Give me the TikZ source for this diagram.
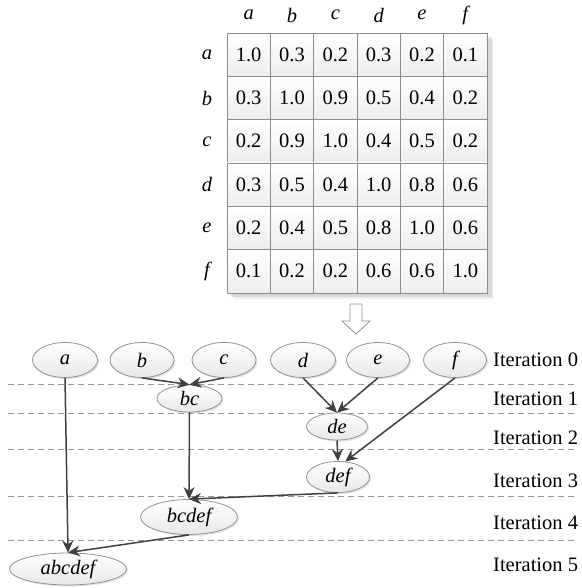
\documentclass[tikz,border=0pt]{standalone}
\usepackage{fontspec}
\setmainfont{Liberation Serif}
\usetikzlibrary{arrows.meta,shadows,shapes.geometric}

\tikzset{
  txt/.style={font=\fontsize{20.5}{24}\selectfont},
  cell/.style={txt, draw=gray!90, line width=0.8pt, top color=white, bottom color=gray!14,
    minimum width=43.33pt, minimum height=43.33pt, inner sep=0pt},
  lbl/.style={font=\fontsize{20.5}{24}\selectfont\itshape, inner sep=0pt},
  cluster/.style={ellipse, draw=gray!85, line width=0.8pt, top color=white, bottom color=gray!18,
    inner sep=0pt, font=\fontsize{20.5}{24}\selectfont\itshape,
    drop shadow={opacity=0.22, shadow xshift=1.5pt, shadow yshift=-1.5pt}},
  link/.style={draw=black!75, line width=1.5pt, -{Stealth[length=12pt,width=11pt]}},
  level/.style={draw=gray!80, dash pattern=on 6pt off 4pt, line width=0.8pt},
  itlabel/.style={txt, anchor=west, inner sep=0pt},
}

\begin{document}
\begin{tikzpicture}[x=1pt,y=-1pt]
\useasboundingbox (0,0) rectangle (581,588);

% soft shadow behind the similarity table
\fill[black, opacity=0.10] (231,37) rectangle (491.5,297);
\fill[black, opacity=0.06] (233,39) rectangle (493,299);

% similarity matrix
\foreach \row [count=\i] in {
  {1.0,0.3,0.2,0.3,0.2,0.1},
  {0.3,1.0,0.9,0.5,0.4,0.2},
  {0.2,0.9,1.0,0.4,0.5,0.2},
  {0.3,0.5,0.4,1.0,0.8,0.6},
  {0.2,0.4,0.5,0.8,1.0,0.6},
  {0.1,0.2,0.2,0.6,0.6,1.0}} {
  \foreach \v [count=\j] in \row {
    \node[cell] (m-\i-\j) at ({227+43.33*(\j-0.5)},{33+43.33*(\i-0.5)}) {\v};
  }
}

% row and column labels
\foreach \l [count=\k] in {a,b,c,d,e,f} {
  \node[lbl] (col-\l) at ({227+43.33*(\k-0.5)},15) {\l};
  \node[lbl] (row-\l) at (207,{33+43.33*(\k-0.5)}) {\l};
}

% hollow arrow leading to the merge tree
\draw[gray!85, line width=0.8pt, fill=white]
  (350,304) -- (362,304) -- (362,321) -- (370,321) -- (356,334)
  -- (342,321) -- (350,321) -- cycle;

% iteration separators
\foreach \y [count=\k] in {384,413,449,496,540} {
  \coordinate (sepL-\k) at (8,\y);
  \coordinate (sepR-\k) at (576,\y);
  \draw[level] (sepL-\k) -- (sepR-\k);
}

% iteration labels
\node[itlabel] (it0) at (493,360) {Iteration 0};
\node[itlabel] (it1) at (493,399) {Iteration 1};
\node[itlabel] (it2) at (493,438) {Iteration 2};
\node[itlabel] (it3) at (493,481) {Iteration 3};
\node[itlabel] (it4) at (493,523) {Iteration 4};
\node[itlabel] (it5) at (493,565) {Iteration 5};

% clusters
\node[cluster, minimum width=65pt, minimum height=35pt] (a) at (65,360) {a};
\node[cluster, minimum width=64pt, minimum height=35pt] (b) at (142,360) {b};
\node[cluster, minimum width=64pt, minimum height=35pt] (c) at (224,360) {c};
\node[cluster, minimum width=65pt, minimum height=35pt] (d) at (303,360) {d};
\node[cluster, minimum width=63pt, minimum height=35pt] (e) at (378,360) {e};
\node[cluster, minimum width=63pt, minimum height=35pt] (f) at (455,360) {f};
\node[cluster, minimum width=65pt, minimum height=27pt] (bc) at (189.5,398.5) {bc};
\node[cluster, minimum width=61pt, minimum height=27pt] (de) at (337,426.5) {de};
\node[cluster, minimum width=63pt, minimum height=31pt] (def) at (338,477) {def};
\node[cluster, minimum width=97pt, minimum height=35pt] (bcdef) at (189,517) {bcdef};
\node[cluster, minimum width=117pt, minimum height=32pt] (abcdef) at (68,569) {abcdef};

% merges
\draw[link] (b.south) -- (bc.north);
\draw[link] (c.south) -- (bc.north);
\draw[link] (d.south) -- (de.north);
\draw[link] (e.south) -- (de.north);
\draw[link] (de.south) -- (def.north);
\draw[link] (f.south) -- (def.65);
\draw[link] (bc.south) -- (bcdef.north);
\draw[link] (def.south) -- (bcdef.north);
\draw[link] (a.south) -- (abcdef.north);
\draw[link] (bcdef.south) -- (abcdef.north);
\end{tikzpicture}
\end{document}
